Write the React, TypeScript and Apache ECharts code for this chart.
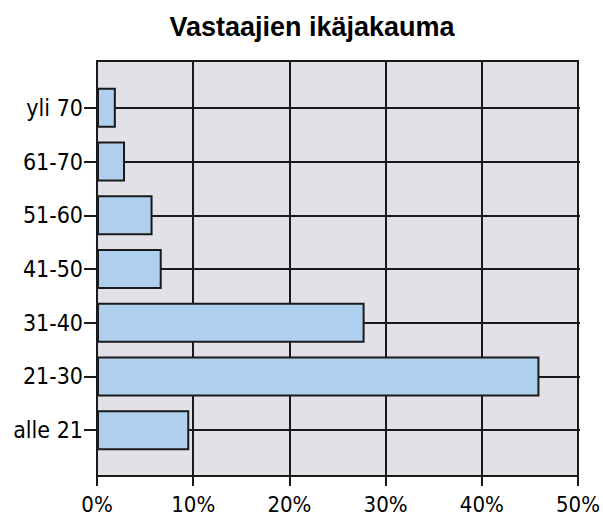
import React, { useEffect, useRef } from "react";
import * as echarts from "echarts";

const title = "Vastaajien ikäjakauma";
const categories = ["alle 21", "21-30", "31-40", "41-50", "51-60", "61-70", "yli 70"];
const values = [9.55, 45.8, 27.7, 6.7, 5.75, 2.9, 1.95];
const xMin = 0;
const xMax = 50;
const xInterval = 10;

const FONT = "'DejaVu Sans Condensed', 'DejaVu Sans', sans-serif";
const DARK = "#1a1a1a";

export default function App() {
  const ref = useRef<HTMLDivElement>(null);
  useEffect(() => {
    if (!ref.current) return;
    const chart = echarts.init(ref.current, undefined, { renderer: "svg" });
    chart.setOption({
      animation: false,
      backgroundColor: "#ffffff",
      title: {
        text: title,
        left: 307,
        textAlign: "center",
        top: 8,
        textStyle: {
          fontFamily: "'Liberation Sans', Arial, sans-serif",
          fontWeight: "bold",
          fontSize: 27,
          color: "#000",
        },
      },
      grid: [
        {
          left: 97,
          right: 23,
          top: 61,
          bottom: 38,
          show: true,
          backgroundColor: "#e1e1e7",
          borderColor: DARK,
          borderWidth: 2,
        },
        { left: 97, right: 23, top: 81, bottom: 58 },
      ],
      xAxis: [
        {
          gridIndex: 0,
          type: "value",
          min: xMin,
          max: xMax,
          interval: xInterval,
          axisLine: { show: true, lineStyle: { color: DARK, width: 2 } },
          axisTick: { show: true, length: 10, lineStyle: { color: DARK, width: 2 } },
          splitLine: { show: true, lineStyle: { color: DARK, width: 2 } },
          axisLabel: {
            formatter: "{value}%",
            fontFamily: FONT,
            fontSize: 22,
            color: "#000",
            margin: 17,
          },
        },
        { gridIndex: 1, type: "value", min: xMin, max: xMax, show: false },
      ],
      yAxis: [
        { gridIndex: 0, type: "value", min: 0, max: 1, show: false },
        {
          gridIndex: 1,
          type: "category",
          data: categories,
          axisLine: { show: false },
          axisTick: {
            show: true,
            alignWithLabel: true,
            length: 13,
            lineStyle: { color: DARK, width: 2 },
          },
          axisLabel: {
            fontFamily: FONT,
            fontSize: 23,
            color: "#000",
            margin: 14,
          },
          splitLine: { show: false },
        },
        {
          gridIndex: 1,
          type: "category",
          position: "left",
          data: categories,
          axisLine: { show: false },
          axisTick: {
            show: true,
            inside: true,
            alignWithLabel: true,
            length: 483,
            lineStyle: { color: DARK, width: 2 },
          },
          axisLabel: { show: false },
          splitLine: { show: false },
        },
      ],
      series: [
        {
          type: "bar",
          xAxisIndex: 1,
          yAxisIndex: 1,
          data: values,
          barWidth: 40,
          itemStyle: { color: "#aed0ee", borderColor: DARK, borderWidth: 2 },
          z: 5,
        },
      ],
    });
    return () => chart.dispose();
  }, []);
  return <div ref={ref} style={{ width: 603, height: 515, position: "absolute", left: 0, top: 0 }} />;
}
